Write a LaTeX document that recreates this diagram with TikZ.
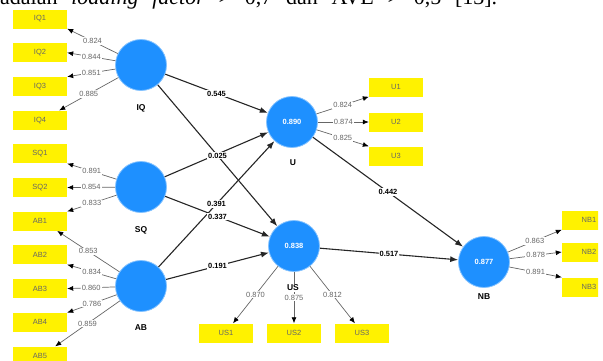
\documentclass[tikz,border=0pt]{standalone}
\usepackage{fontspec}
\setmainfont{Liberation Serif}
\setsansfont{Liberation Sans}
\usetikzlibrary{positioning, arrows.meta}
\definecolor{plsblue}{RGB}{30,144,255}
\definecolor{plsyellow}{RGB}{255,242,0}

\begin{document}
\begin{tikzpicture}[x=1pt, y=-1pt,
    latent/.style={circle, fill=plsblue, draw=plsblue!55!white, line width=0.8pt, minimum size=51pt, inner sep=0pt, text=white, font=\sffamily\bfseries\fontsize{7.5}{8}\selectfont},
    item/.style={fill=plsyellow, minimum width=54pt, minimum height=19pt, inner sep=0pt, text=black!60, font=\sffamily\fontsize{7.5}{8}\selectfont},
    cname/.style={fill=white, inner sep=1pt, font=\sffamily\bfseries\fontsize{8.5}{9}\selectfont},
    load/.style={draw=black!60, line width=0.7pt, -{Latex[length=6pt, width=5pt, color=black]}},
    lval/.style={fill=white, inner sep=1pt, text=black!60, font=\sffamily\fontsize{7.5}{8}\selectfont},
    path/.style={draw=black!85, line width=1.1pt, -{Latex[length=8pt, width=6pt]}},
    pval/.style={fill=white, inner sep=1pt, font=\sffamily\bfseries\fontsize{7.5}{8}\selectfont}
  ]
    \useasboundingbox (0,0) rectangle (603,360);

    % Cut-off line of text above the figure
    \node[anchor=base west, inner sep=0pt, font=\fontsize{22}{24}\selectfont] (caption) at (0,4.5)
      {\hbox to 497pt{adalah\hfil\textit{loading}\hfil\textit{factor}\hfil>\hfil0,7\hfil dan\hfil AVE\hfil>\hfil0,5\hfil[13].}};

    % Latent variables
    \node[latent] (IQ) at (141,65) {};
    \node[latent] (SQ) at (141,187) {};
    \node[latent] (AB) at (141,286) {};
    \node[latent] (U) at (292,122) {0.890};
    \node[latent] (US) at (294,246) {0.838};
    \node[latent] (NB) at (484,262) {0.877};

    % Indicators
    \foreach \n [count=\i from 0] in {IQ1,IQ2,IQ3,IQ4,SQ1,SQ2,AB1,AB2,AB3,AB4,AB5}
      \node[item] (\n) at (40,{19+33.7*\i}) {\n};
    \foreach \n/\y in {U1/87, U2/122, U3/156}
      \node[item] (\n) at (396,\y) {\n};
    \foreach \n/\x in {US1/226, US2/294, US3/362}
      \node[item] (\n) at (\x,333) {\n};
    \begin{scope}
      \clip (0,0) rectangle (598,360);
      \foreach \n/\y in {NB1/220, NB2/252, NB3/287}
        \node[item] (\n) at (589,\y) {\n};
    \end{scope}

    % Outer loadings
    \draw[load] (IQ) -- node[lval] {0.824} (IQ1.south east);
    \draw[load] (IQ) -- node[lval] {0.844} (IQ2.east);
    \draw[load] (IQ) -- node[lval] {0.851} (IQ3.north east);
    \draw[load] (IQ) -- node[lval] {0.885} ([xshift=-8pt]IQ4.north east);
    \draw[load] (SQ) -- node[lval] {0.891} (SQ1.south east);
    \draw[load] (SQ) -- node[lval] {0.854} (SQ2.east);
    \draw[load] (SQ) -- node[lval] {0.833} (AB1.north east);
    \draw[load] (AB) -- node[lval] {0.853} ([xshift=-10pt]AB1.south east);
    \draw[load] (AB) -- node[lval] {0.834} (AB2.south east);
    \draw[load] (AB) -- node[lval] {0.860} (AB3.east);
    \draw[load] (AB) -- node[lval] {0.786} (AB4.north east);
    \draw[load] (AB) -- node[lval] {0.859} ([xshift=-12pt]AB5.north east);
    \draw[load] (U) -- node[lval] {0.824} (U1.south west);
    \draw[load] (U) -- node[lval] {0.874} (U2.west);
    \draw[load] (U) -- node[lval] {0.825} (U3.north west);
    \draw[load] (US) -- node[lval] {0.870} ([xshift=7pt]US1.north);
    \draw[load] (US) -- node[lval] {0.875} (US2.north);
    \draw[load] (US) -- node[lval] {0.812} ([xshift=-7pt]US3.north);
    \draw[load] (NB) -- node[lval] {0.863} (NB1.south west);
    \draw[load] (NB) -- node[lval] {0.878} (NB2.west);
    \draw[load] (NB) -- node[lval] {0.891} (NB3.north west);

    % Inner model
    \draw[path] (SQ) -- (U);
    \draw[path] (IQ) -- node[pval] {0.545} (U);
    \draw[path] (IQ) -- node[pval] {0.025} (US);
    \draw[path] (AB) -- node[pval] {0.391} (U);
    \draw[path] (SQ) -- node[pval] {0.337} (US);
    \draw[path] (AB) -- node[pval] {0.191} (US);
    \draw[path] (U) -- node[pval] {0.442} (NB);
    \draw[path] (US) -- node[pval] {0.517} (NB);

    % Construct names
    \node[cname] (IQname) at (141,108) {IQ};
    \node[cname] (SQname) at (141,230) {SQ};
    \node[cname] (ABname) at (141,328) {AB};
    \node[cname] (Uname) at (293,163) {U};
    \node[cname] (USname) at (293,288) {US};
    \node[cname] (NBname) at (484,297) {NB};
\end{tikzpicture}
\end{document}
